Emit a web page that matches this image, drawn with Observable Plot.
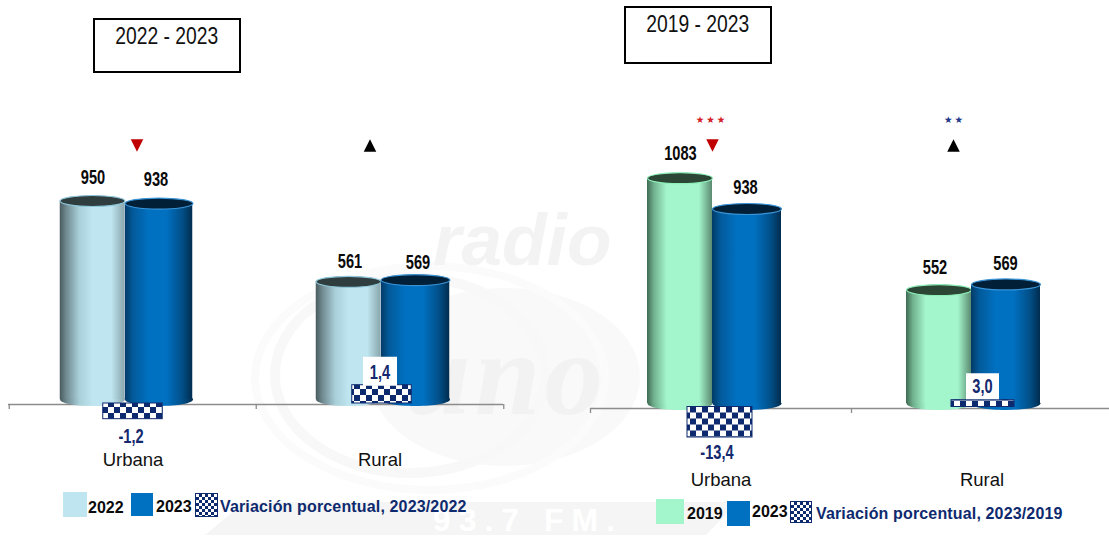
<!DOCTYPE html>
<html lang="es">
<head>
<meta charset="utf-8">
<script src="https://cdn.jsdelivr.net/npm/d3@7"></script>
<script src="https://cdn.jsdelivr.net/npm/@observablehq/plot@0.6"></script>
<style>
  html, body { margin: 0; padding: 0; background: #fff; }
  #page { position: relative; width: 1109px; height: 540px; overflow: hidden;
          font-family: "Liberation Sans", Arial, sans-serif; }
  #page > svg, #page > div.layer { position: absolute; left: 0; top: 0; width: 1109px; height: 540px; }
  .box { position: absolute; box-sizing: border-box; border: 2px solid #000; text-align: center;
         font: 23.5px/1 "Liberation Sans", sans-serif; color: #111; background: #fff; }
  .box span { display: inline-block; transform: scaleX(.82); white-space: nowrap; }
  .sw { position: absolute; box-sizing: border-box; }
  .chk { background: repeating-conic-gradient(#0E2A6E 0 25%, #fff 0 50%) 0 0 / 6px 6px; border: 1px solid #0E2A6E; }
  .lg { position: absolute; font-weight: bold; font-size: 16px; line-height: 18px; white-space: nowrap; color: #0a0a0a; }
  .lg.var { color: #0E2A6E; letter-spacing: .15px; }
</style>
</head>
<body>
<div id="page">
  <svg id="watermark" width="1109" height="540" viewBox="0 0 1109 540" aria-hidden="true">
    <polygon points="205,535 245,502 738,502 706,535" fill="#f5f5f5"/>
    <text x="528" y="531" text-anchor="middle" font-family="Liberation Sans" font-weight="bold" font-size="32" letter-spacing="8" fill="#ffffff">93.7 FM.</text>
    <ellipse cx="505" cy="377" rx="135" ry="89" fill="#f9f9f9"/>
    <ellipse cx="410" cy="375" rx="135" ry="98" fill="none" stroke="#f8f8f8" stroke-width="10"/>
    <ellipse cx="430" cy="378" rx="175" ry="112" fill="none" stroke="#fbfbfb" stroke-width="8"/>
    <text x="433" y="265" font-family="Liberation Sans" font-style="italic" font-weight="bold" font-size="73" fill="#f3f3f3">radio</text>
    <text x="405" y="414" font-family="Liberation Serif" font-style="italic" font-weight="bold" font-size="118" letter-spacing="4" fill="#f2f2f2">uno</text>
  </svg>
  <div class="layer" id="charts"></div>
  <div class="box" style="left:93px;top:18px;width:148px;height:55px;padding-top:5px"><span>2022 - 2023</span></div>
  <div class="box" style="left:624px;top:6px;width:148px;height:58px;padding-top:5px"><span>2019 - 2023</span></div>

  <div class="sw" style="left:63px;top:492px;width:24px;height:25px;background:#BEE5F0"></div>
  <div class="lg" style="left:88px;top:499px">2022</div>
  <div class="sw" style="left:131px;top:493px;width:22px;height:23px;background:#0070C0"></div>
  <div class="lg" style="left:156px;top:498px">2023</div>
  <div class="sw chk" style="left:195px;top:493px;width:23px;height:24px"></div>
  <div class="lg var" style="left:220px;top:498px">Variación porcentual, 2023/2022</div>

  <div class="sw" style="left:656px;top:499px;width:28px;height:25px;background:#A3F5CB"></div>
  <div class="lg" style="left:687px;top:505px">2019</div>
  <div class="sw" style="left:727px;top:501px;width:23px;height:25px;background:#0070C0"></div>
  <div class="lg" style="left:752px;top:503px">2023</div>
  <div class="sw chk" style="left:790px;top:501px;width:22px;height:22px"></div>
  <div class="lg var" style="left:816px;top:505px">Variación porcentual, 2023/2019</div>
</div>
<script>
// ---- data ----
const categories = ["Urbana", "Rural"];

const years2022 = [950, 561];
const years2023 = [938, 569];
const change2023vs2022 = [-1.2, 1.4];
const trend2023vs2022 = ["down", "up"];
const signif2023vs2022 = ["", ""];

const years2019 = [1083, 552];
const change2023vs2019 = [-13.4, 3.0];
const trend2023vs2019 = ["down", "up"];
const signif2023vs2019 = ["★\u2009★\u2009★", "★\u2009★"];

// ---- styling ----
const NAVY = "#0E2A6E";
const FONT = '"Liberation Sans", sans-serif';
const looks = {
  lightblue: {grad: [[0,"#4a5a5e"],[.1,"#6f8a90"],[.3,"#a9cfd9"],[.5,"#BEE5F0"],[.8,"#BEE5F0"],[1,"#8aa7ae"]], top: "#2f3d3f", edge: "#8fc7da"},
  blue:      {grad: [[0,"#023a66"],[.12,"#035a9a"],[.35,"#0070C0"],[.62,"#0070C0"],[.85,"#024f88"],[1,"#012c4e"]], top: "#021f38", edge: "#3a94d6"},
  green:     {grad: [[0,"#3f6a52"],[.1,"#6fae8c"],[.3,"#A3F5CB"],[.8,"#A3F5CB"],[1,"#5b8a70"]], top: "#2c4636", edge: "#8ef0b8"}
};

// Custom dot shapes, drawn through Plot's dot mark.
const ellipse = (rx, ry) => ({draw(c) {
  const k = 0.5523;
  c.moveTo(rx, 0);
  c.bezierCurveTo(rx, k * ry, k * rx, ry, 0, ry);
  c.bezierCurveTo(-k * rx, ry, -rx, k * ry, -rx, 0);
  c.bezierCurveTo(-rx, -k * ry, -k * rx, -ry, 0, -ry);
  c.bezierCurveTo(k * rx, -ry, rx, -k * ry, rx, 0);
  c.closePath();
}});
const box = (w, h) => ({draw(c) {
  c.moveTo(-w/2, -h/2); c.lineTo(w/2, -h/2); c.lineTo(w/2, h/2); c.lineTo(-w/2, h/2); c.closePath();
}});
const arrow = (dir, w, h) => ({draw(c) {
  const s = dir === "up" ? 1 : -1;
  c.moveTo(-w/2, s * h/2); c.lineTo(w/2, s * h/2); c.lineTo(0, -s * h/2); c.closePath();
}});
// The reference's bold figures are a condensed face: squeeze the text horizontally.
const squeezed = (k) => (index, scales, values, dims, ctx, next) => {
  const g = next(index, scales, values, dims, ctx);
  d3.select(g).selectAll("text").attr("transform", function () {
    return (this.getAttribute("transform") || "") + ` scale(${k},1)`;
  });
  return g;
};

function panel(cfg) {
  const {id, baseline, pxPerUnit, range, changeUnits, first, firstLook, recent, change, trend, signif, layout} = cfg;
  const bw = (range[1] - range[0]) / categories.length;
  const defs = () => {
    const d = d3.create("svg:defs");
    for (const name of [firstLook, "blue"]) {
      const g = d.append("linearGradient").attr("id", id + name);
      for (const [o, c] of looks[name].grad) g.append("stop").attr("offset", o).attr("stop-color", c);
    }
    const p = d.append("pattern").attr("id", id + "chk").attr("patternUnits", "userSpaceOnUse")
      .attr("width", 12).attr("height", 12);
    p.append("rect").attr("width", 12).attr("height", 12).attr("fill", NAVY);
    p.append("rect").attr("width", 6).attr("height", 6).attr("fill", "#fff");
    p.append("rect").attr("x", 6).attr("y", 6).attr("width", 6).attr("height", 6).attr("fill", "#fff");
    return d.node();
  };

  const cylinders = [];
  const valueLabels = [];
  categories.forEach((cat, i) => {
    const L = layout[i];
    [[first[i], firstLook, L.a], [recent[i], "blue", L.b]].forEach(([value, look, [x0, x1, lift, ldx, ldy]]) => {
      const row = [{cat, value}];
      const rx = (x1 - x0) / 2, mid = (x0 + x1) / 2;
      const url = `url(#${id}${look})`;
      cylinders.push(
        Plot.dot(row, {x: "cat", dx: mid, y: () => 0, dy: -5, symbol: ellipse(rx, 6.5), fill: url}),
        Plot.barY(row, {x: "cat", y: "value", fill: url, dy: -lift,
          insetLeft: bw / 2 + x0, insetRight: bw / 2 - x1, insetBottom: 5 - lift}),
        Plot.dot(row, {x: "cat", dx: mid, y: "value", dy: -lift, symbol: ellipse(rx, 5.5),
          fill: looks[look].top, stroke: looks[look].edge, strokeWidth: 1.2})
      );
      valueLabels.push(Plot.text(row, {x: "cat", y: "value", text: d => String(d.value), dx: ldx, dy: ldy,
        fontFamily: FONT, fontWeight: "bold", fontSize: 19.5, fill: "#0a0a0a", render: squeezed(.75)}));
    });
  });

  const changes = categories.map((cat, i) => ({cat, change: change[i], scaled: change[i] * changeUnits, trend: trend[i], signif: signif[i]}));
  const changeMarks = [];
  changes.forEach((d, i) => {
    const L = layout[i];
    changeMarks.push(
      Plot.barY([d], {x: "cat", y: "scaled", fill: `url(#${id}chk)`, stroke: NAVY, strokeWidth: 1, dy: L.cdy,
        insetLeft: bw / 2 + L.c[0], insetRight: bw / 2 - L.c[1]}),
      ...(d.change > 0 ? [Plot.dot([d], {x: "cat", y: "scaled", dx: L.box[0], dy: L.box[1], symbol: box(L.box[2], L.box[3]), fill: "#fff"})] : []),
      Plot.text([d], {x: "cat", y: "scaled", text: e => e.change.toFixed(1).replace(".", ","), dx: L.t[0], dy: L.t[1],
        fontFamily: FONT, fontWeight: "bold", fontSize: 19.5, fill: "#14296E", render: squeezed(.75)}),
      Plot.dot([d], {x: "cat", frameAnchor: "top", dx: L.arrow, dy: 145, symbol: arrow(d.trend, 12.5, 12.5),
        fill: d.trend === "down" ? "#C00000" : "#000"}),
      Plot.text([d], {x: "cat", frameAnchor: "top", lineAnchor: "middle", text: "signif", dx: L.star, dy: 119,
        fontFamily: "DejaVu Sans", fontSize: 9.5, fill: d.trend === "down" ? "#D42027" : "#1F3A8A"})
    );
  });

  const tickDepth = 5 / pxPerUnit;
  return Plot.plot({
    width: 1109, height: 540,
    marginLeft: range[0], marginRight: Math.max(0, 1109 - range[1]), marginTop: 0, marginBottom: 0,
    style: {background: "transparent", color: "#111", overflow: "visible", position: "absolute", left: 0, top: 0},
    x: {type: "band", domain: categories, range, padding: 0, axis: null},
    y: {domain: [(baseline - 540) / pxPerUnit, baseline / pxPerUnit], range: [540, 0], axis: null},
    marks: [
      defs,
      Plot.ruleY([0], {stroke: "#8c8c8c", strokeWidth: 1.3}),
      Plot.ruleX(categories, {x: d => d, dx: -bw / 2, y1: 0, y2: -tickDepth, stroke: "#8c8c8c", strokeWidth: 1.3}),
      Plot.ruleX([categories[categories.length - 1]], {x: d => d, dx: bw / 2, y1: 0, y2: -tickDepth, stroke: "#8c8c8c", strokeWidth: 1.3}),
      ...cylinders,
      ...changeMarks,
      ...valueLabels,
      Plot.axisX({anchor: "bottom", tickSize: 0, tickPadding: 0, label: null, dy: cfg.axisDy, fontSize: 18.5,
        fontFamily: FONT, color: "#111"})
    ]
  });
}

const left = panel({
  id: "l", baseline: 404, pxPerUnit: 0.2142, range: [8, 503], changeUnits: 61, axisDy: -88,
  first: years2022, firstLook: "lightblue", recent: years2023, change: change2023vs2022,
  trend: trend2023vs2022, signif: signif2023vs2022,
  layout: [
    {a: [-73, -8, 0, -40, -23], b: [-8, 60, 0, 23, -24], c: [-30, 30], cdy: -1, t: [-2, 17], box: [0, 0, 0, 0], arrow: 4, star: 4},
    {a: [-64, 1, 2.5, -30, -23], b: [1, 70, 2.5, 38, -20], c: [-28, 32], cdy: -1, t: [0, -13], box: [0, -15, 34, 29], arrow: -10, star: -10}
  ]
});
const right = panel({
  id: "r", baseline: 408, pxPerUnit: 0.2127, range: [590, 1112], changeUnits: 10.7, axisDy: -68,
  first: years2019, firstLook: "green", recent: years2023, change: change2023vs2019,
  trend: trend2023vs2019, signif: signif2023vs2019,
  layout: [
    {a: [-73.5, -8.5, 0, -40.5, -24], b: [-8.5, 60.5, 0, 24.5, -21], c: [-33.5, 31.5], cdy: -1.5, t: [-4, 14], box: [0, 0, 0, 0], arrow: -8.5, star: -10.5},
    {a: [-75.5, -10.5, 1, -47, -23], b: [-10.5, 58.5, 3, 23.5, -24], c: [-30.5, 32.5], cdy: -1.5, t: [0.5, -15], box: [0.5, -15.5, 33, 26], arrow: -28.5, star: -28.5}
  ]
});
document.getElementById("charts").append(left, right);
</script>
</body>
</html>
